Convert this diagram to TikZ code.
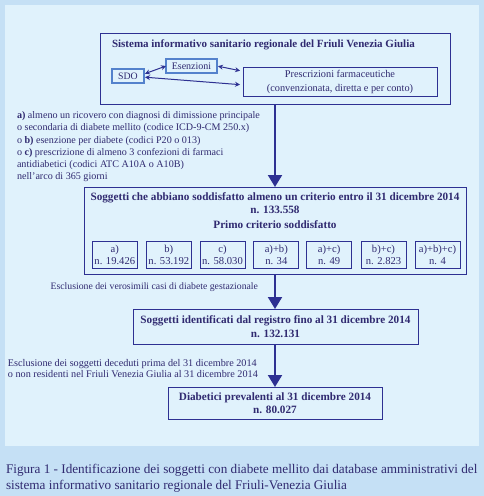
\documentclass[tikz,border=0pt]{standalone}
\usepackage{fontspec}
\setmainfont{Liberation Serif}
\usetikzlibrary{arrows.meta,calc}
\definecolor{outerbg}{RGB}{197,224,245}
\definecolor{innerbg}{RGB}{224,242,252}
\definecolor{navy}{RGB}{46,49,146}
\definecolor{txt}{RGB}{48,42,112}
\definecolor{lblue}{RGB}{84,130,204}
\begin{document}
\begin{tikzpicture}[x=1pt,y=-1pt,
 every node/.style={text=txt, inner sep=0pt, outer sep=0pt},
 frame/.style={draw=navy, line width=1pt, rectangle},
 lframe/.style={draw=lblue, line width=1.3pt, rectangle},
 body/.style={font=\fontsize{10.1}{12.3}\selectfont},
 small/.style={font=\fontsize{10.6}{12}\selectfont},
 bbody/.style={font=\bfseries\fontsize{11.2}{14}\selectfont},
 mainarrow/.style={draw=navy, line width=2pt, -{Triangle[width=14pt,length=12pt]}},
 dbl/.style={draw=navy, line width=1pt, {Stealth[length=5pt,width=5pt]}-{Stealth[length=5pt,width=5pt]}},
 minibox/.style={frame, minimum width=45pt, minimum height=27pt, align=center, small},
]
\useasboundingbox (0,0) rectangle (484,496);
\fill[outerbg] (0,0) rectangle (484,496);
\fill[innerbg] (5,5) rectangle (479,446);

% top box
\node[frame, minimum width=350pt, minimum height=71pt] (sis) at (275,68.5) {};
\node[anchor=west, font=\bfseries\fontsize{11}{13}\selectfont] (sistitle) at (112,45) {Sistema informativo sanitario regionale del Friuli Venezia Giulia};
\node[lframe, minimum width=32pt, minimum height=14pt, font=\fontsize{9.8}{12}\selectfont] (sdo) at (128,76) {SDO};
\node[lframe, minimum width=51pt, minimum height=14pt, font=\fontsize{10}{12}\selectfont] (esen) at (191.5,66) {Esenzioni};
\node[frame, minimum width=194pt, minimum height=29pt, align=center, font=\fontsize{10.3}{14}\selectfont] (presc) at (340,81.5) {Prescrizioni farmaceutiche\\(convenzionata, diretta e per conto)};
\draw[dbl, shorten <=1pt] (sdo.7) -- (esen.west);
\draw[dbl, shorten >=3pt, shorten <=1pt] (esen.east) -- (presc.174);
\draw[dbl, shorten >=3pt, shorten <=1pt] (sdo.-4) -- (presc.182);

% criteria
\node[body, align=left, anchor=north west] (crit) at (17,111.4) {\textbf{a)} almeno un ricovero con diagnosi di dimissione principale\\o secondaria di diabete mellito (codice ICD-9-CM 250.x)\\o \textbf{b)} esenzione per diabete (codici P20 o 013)\\o \textbf{c)} prescrizione di almeno 3 confezioni di farmaci\\antidiabetici (codici ATC A10A o A10B)\\nell'arco di 365 giorni};

% soggetti box
\node[frame, minimum width=382pt, minimum height=87pt] (sog) at (275.5,230.5) {};
\node[bbody] (sog1) at (275,198) {Soggetti che abbiano soddisfatto almeno un criterio entro il 31 dicembre 2014};
\node[bbody] (sog2) at (275,210) {n. 133.558};
\node[bbody] (sog3) at (275,225) {Primo criterio soddisfatto};
\node[minibox] (ca) at (114.8,254.5) {a)\\n. 19.426};
\node[minibox] (cb) at (168.8,254.5) {b)\\n. 53.192};
\node[minibox] (cc) at (222.5,254.5) {c)\\n. 58.030};
\node[minibox] (cab) at (276.3,254.5) {a)+b)\\n. 34};
\node[minibox] (cac) at (329.2,254.5) {a)+c)\\n. 49};
\node[minibox] (cbc) at (383.5,254.5) {b)+c)\\n. 2.823};
\node[minibox] (cabc) at (437.5,254.5) {a)+b)+c)\\n. 4};

\node[anchor=east, font=\fontsize{9.75}{12}\selectfont] (escl1) at (258,287) {Esclusione dei verosimili casi di diabete gestazionale};

% identificati
\node[frame, minimum width=285pt, minimum height=35pt, align=center, bbody] (ident) at (275.5,326.5) {Soggetti identificati dal registro fino al 31 dicembre 2014\\n. 132.131};

\node[align=left, anchor=north west, font=\fontsize{10.2}{11}\selectfont] (escl2) at (8,359) {Esclusione dei soggetti deceduti prima del 31 dicembre 2014\\o non residenti nel Friuli Venezia Giulia al 31 dicembre 2014};

% diabetici
\node[frame, minimum width=214pt, minimum height=32pt, align=center, font=\bfseries\fontsize{11.2}{13.5}\selectfont] (diab) at (275,403) {Diabetici prevalenti al 31 dicembre 2014\\n. 80.027};

% main arrows
\draw[mainarrow] (sis.south -| 275,0) -- (sog.north -| 275,0);
\draw[mainarrow] (sog.south -| 275,0) -- (ident.north -| 275,0);
\draw[mainarrow] (ident.south -| 275,0) -- (diab.north -| 275,0);

% caption
\node[align=left, anchor=north west, font=\fontsize{13.2}{16}\selectfont] (cap) at (6,464) {Figura 1 - Identificazione dei soggetti con diabete mellito dai database amministrativi del\\sistema informativo sanitario regionale del Friuli-Venezia Giulia};
\end{tikzpicture}
\end{document}
